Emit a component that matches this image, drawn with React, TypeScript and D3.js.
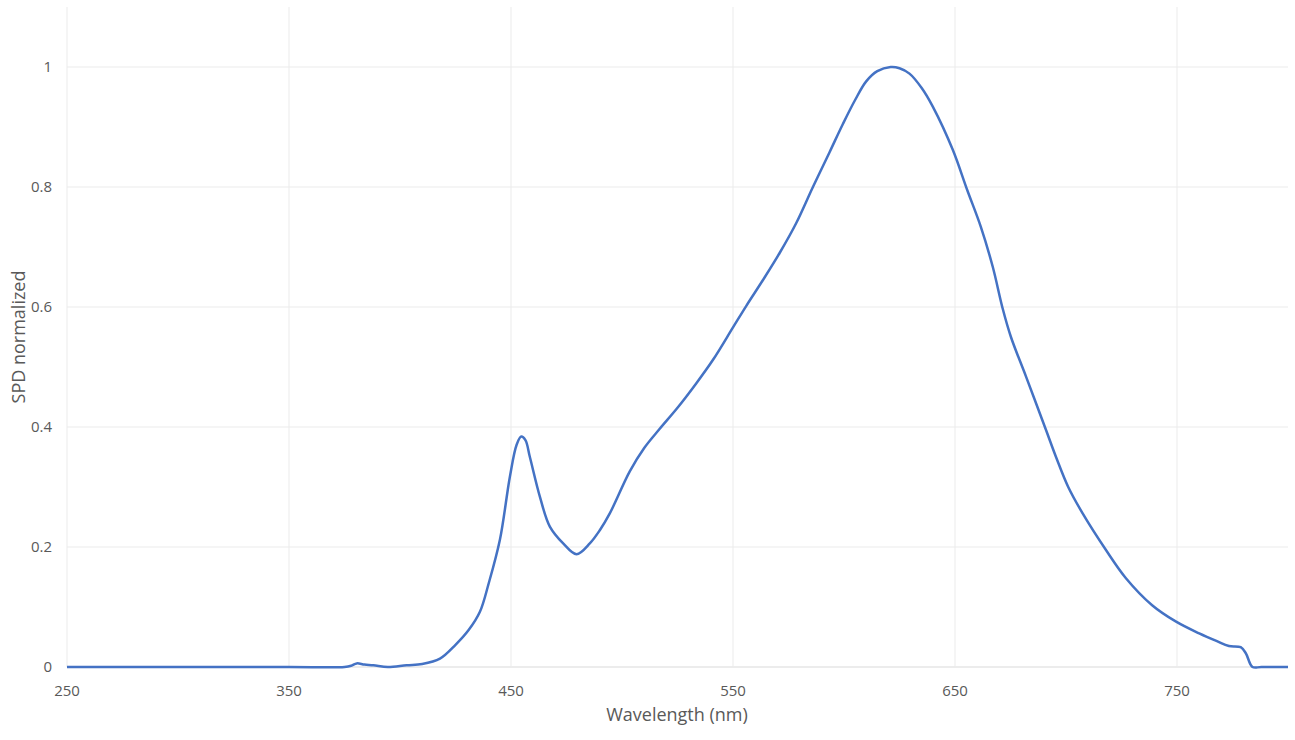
import React, { useMemo } from 'react'
import { scaleLinear, line, curveCatmullRom } from 'd3'

// wavelength (nm) and normalized SPD
const wavelengths: number[] = [
    250, 300, 350, 375, 378, 380.5, 384, 388, 394.5, 403, 410, 418, 425, 431, 436, 440,
    445, 449.5, 452.5, 454.6, 456.5, 458.5, 463, 467.5, 473.5, 479.5, 485.5, 490, 494.5,
    503.5, 510, 517, 525, 533.5, 541, 550, 556, 563.5, 571, 578.5, 586, 593.5, 599.5,
    605, 610, 615, 621, 625, 629.5, 635, 640, 649, 655.5, 661.6, 667, 671.5, 675.2, 682,
    691, 695.5, 701, 707.5, 718, 727, 738.8, 749.4, 760, 768, 773.4, 778.7, 781, 784,
    788, 800,
]
const spd: number[] = [
    0, 0, 0, 0, 0.002, 0.006, 0.004, 0.003, 0, 0.003, 0.005, 0.014, 0.037, 0.062, 0.092, 0.14,
    0.212, 0.317, 0.37, 0.384, 0.378, 0.35, 0.284, 0.234, 0.206, 0.188, 0.206, 0.228, 0.256,
    0.326, 0.365, 0.397, 0.432, 0.473, 0.512, 0.566, 0.602, 0.645, 0.69, 0.74, 0.8, 0.858, 0.905,
    0.945, 0.976, 0.993, 1.0, 0.998, 0.989, 0.965, 0.934, 0.862, 0.795, 0.734, 0.667, 0.597, 0.55, 0.484,
    0.395, 0.35, 0.3, 0.256, 0.195, 0.148, 0.103, 0.076, 0.056, 0.043, 0.035, 0.033, 0.023, 0,
    0, 0,
]
const xTicks: number[] = [250, 350, 450, 550, 650, 750]
const yTicks: number[] = [0, 0.2, 0.4, 0.6, 0.8, 1]

const W = 1295, H = 740
const margin = { top: 7, right: 7, bottom: 73, left: 67 }
const FONT = "'Open Sans', 'Noto Sans', sans-serif"

export default function App() {
    const x = useMemo(() => scaleLinear().domain([250, 800]).range([margin.left, W - margin.right]), [])
    const y = useMemo(() => scaleLinear().domain([0, 1.1]).range([H - margin.bottom, margin.top]), [])

    const path = line<number>()
        .x((_, i) => x(wavelengths[i]))
        .y((d) => y(d))
        .curve(curveCatmullRom.alpha(0.5))(spd) ?? ''

    return (
        <svg width={W} height={H} style={{ position: 'absolute', left: 0, top: 0, background: '#fff' }}>
            {/* horizontal grid */}
            {yTicks.map((t) => (
                <g key={'y' + t}>
                    <line x1={x(250)} x2={x(800)} y1={y(t)} y2={y(t)} stroke={t === 0 ? '#d9d9d9' : '#ebebeb'} strokeWidth={1} />
                    <text x={52} y={y(t)} dy="0.35em" textAnchor="end" fontFamily={FONT} fontSize={15} fill="#595959">{t}</text>
                </g>
            ))}
            {/* vertical grid */}
            {xTicks.map((t) => (
                <g key={'x' + t}>
                    <line x1={x(t)} x2={x(t)} y1={y(1.1)} y2={y(0)} stroke="#ebebeb" strokeWidth={1} />
                    <text x={x(t)} y={696} textAnchor="middle" fontFamily={FONT} fontSize={15} fill="#595959">{t}</text>
                </g>
            ))}
            <path d={path} fill="none" stroke="#4472C4" strokeWidth={2.5} strokeLinejoin="round" />
            <text x={677} y={721} textAnchor="middle" fontFamily={FONT} fontSize={18} fill="#595959">Wavelength (nm)</text>
            <text transform={`translate(25, ${y(0.55)}) rotate(-90)`} textAnchor="middle" fontFamily={FONT} fontSize={18} fill="#595959">SPD normalized</text>
        </svg>
    )
}
